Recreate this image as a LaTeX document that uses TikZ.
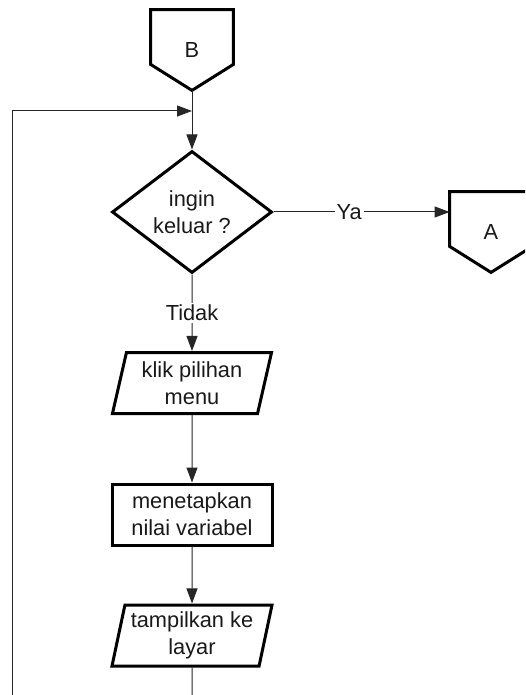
\documentclass[tikz,border=0pt]{standalone}
\usepackage{fontspec}
\setmainfont{Liberation Sans}
\usetikzlibrary{shapes.geometric,arrows.meta}

\begin{document}
\begin{tikzpicture}[x=0.5pt,y=-0.5pt,
		every node/.style={font=\fontsize{10.9}{13.5}\selectfont,align=center,text=black!90},
		shp/.style={draw,line width=1.5pt,inner sep=0pt},
		offpage/.style={inner sep=0pt,minimum width=41pt,minimum height=40pt},
		decision/.style={shp,diamond,minimum width=80pt,minimum height=61pt},
		io/.style={shp,trapezium,trapezium left angle=76,trapezium right angle=104,trapezium stretches=true,minimum width=80pt,minimum height=30.5pt},
		proc/.style={shp,rectangle,minimum width=80pt,minimum height=30.5pt},
		lbl/.style={fill=white,inner sep=1pt},
		conn/.style={line width=0.5pt,draw=black!85},
		arr/.style={conn,-{Triangle[length=7.5pt,width=5.5pt]}}]
			\clip (0,0) rectangle (525,695);
			\useasboundingbox (0,0) rectangle (525,695);
			
			\node[offpage] (B) at (192,50) {B};
			\draw[shp] (B.north west) -- (B.north east) -- ([yshift=13pt]B.south east) -- (B.south) -- ([yshift=13pt]B.south west) -- cycle;
			\node[decision] (keluar) at (192,212) {ingin\\keluar ?};
			\node[offpage] (A) at (491,232) {A};
			\draw[shp] (A.north west) -- (A.north east) -- ([yshift=13pt]A.south east) -- (A.south) -- ([yshift=13pt]A.south west) -- cycle;
			\node[io] (pilih) at (192,383) {klik pilihan\\menu};
			\node[proc] (tetap) at (192,514.5) {menetapkan\\nilai variabel};
			\node[io] (tampil) at (192,635.5) {tampilkan ke\\layar};
			
			\coordinate (masuk) at (192,111);
			\coordinate (ulang) at (12,695);
			\coordinate (lanjut) at (192,695);
			
			\draw[arr] (B.south) -- (keluar.north);
			\draw[arr] (ulang) |- (masuk);
			\draw[arr] (keluar.east) -- node[lbl,pos=0.43] (ya) {Ya} (keluar.east -| A.west);
			\draw[arr] (keluar.south) -- node[lbl,pos=0.5] (tidak) {Tidak} (pilih.north);
			\draw[arr] (pilih.south) -- (tetap.north);
			\draw[arr] (tetap.south) -- (tampil.north);
			\draw[conn] (tampil.south) -- (lanjut);
			
		\end{tikzpicture}
\end{document}
